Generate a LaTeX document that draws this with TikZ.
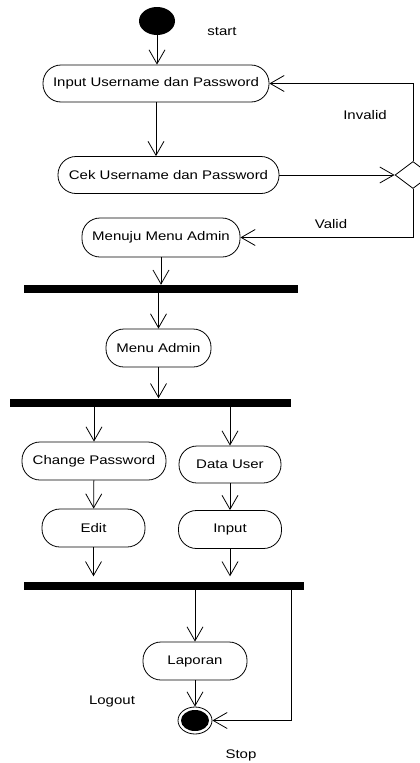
\documentclass[tikz,border=0pt]{standalone}
\usepackage{fontspec}
\setmainfont{Liberation Sans}[FakeStretch=1.2]
\usetikzlibrary{shapes.geometric, arrows.meta, positioning}
\tikzstyle{activity} = [rectangle, rounded corners=18pt, minimum height=37pt, text centered, draw=black, line width=0.8pt, font=\fontsize{12.5}{15}\selectfont]
\tikzstyle{startnode} = [ellipse, fill=black, minimum width=36pt, minimum height=28pt, inner sep=0pt]
\tikzstyle{stopnode}  = [ellipse, draw=black, line width=0.8pt, minimum width=34pt, minimum height=27pt, inner sep=0pt, path picture={\fill[black] (path picture bounding box.center) ellipse (14pt and 10.5pt);}]
\tikzstyle{bar}       = [rectangle, fill=black, minimum height=8pt, inner sep=0pt]
\tikzstyle{decision}  = [diamond, draw=black, fill=white, line width=0.8pt, minimum width=36pt, minimum height=27pt, inner sep=0pt]
\tikzstyle{txt}       = [font=\fontsize{12.5}{15}\selectfont, inner sep=0pt]
\tikzstyle{arrow}     = [line width=0.8pt, -{Straight Barb[length=14pt,width=16pt]}]

\begin{document}
\begin{tikzpicture}[x=1pt, y=-1pt]

\clip (0,0) rectangle (420,763);

\node (start)     [startnode] at (157,21) {};
\node (starttxt)  [txt] at (222,32) {start};
\node (input)     [activity, minimum width=226pt] at (156,83.5) {Input Username dan Password};
\node (cek)       [activity, minimum width=221pt] at (168.5,175) {Cek Username dan Password};
\node (dec)       [decision] at (413,175) {};
\node (invalid)   [txt] at (365,115) {Invalid};
\node (valid)     [txt] at (331,224) {Valid};
\node (menuju)    [activity, minimum width=158pt, minimum height=39pt] at (161,237.5) {Menuju Menu Admin};
\node (bar1)      [bar, minimum width=274pt] at (161,289) {};
\node (menuadmin) [activity, minimum width=105pt, minimum height=38pt] at (158.5,348) {Menu Admin};
\node (bar2)      [bar, minimum width=281pt] at (150.5,402.5) {};
\node (change)    [activity, minimum width=144pt, minimum height=38pt] at (94,461) {Change Password};
\node (datauser)  [activity, minimum width=102pt] at (230,464.5) {Data User};
\node (edit)      [activity, minimum width=103pt, minimum height=38pt] at (93.5,528) {Edit};
\node (inputdata) [activity, minimum width=103pt, minimum height=38pt] at (230,529.5) {Input};
\node (bar3)      [bar, minimum width=280pt] at (164,585.5) {};
\node (laporan)   [activity, minimum width=104pt, minimum height=38pt] at (195,661) {Laporan};
\node (logout)    [txt] at (112,701) {Logout};
\node (stop)      [stopnode] at (195,720.5) {};
\node (stoptxt)   [txt] at (241,755) {Stop};

\draw [arrow] (start)    -- (start |- input.north);
\draw [arrow] (input)    -- (input |- cek.north);
\draw [arrow] (cek)      -- (dec.west);
\draw [arrow] (dec.north) |- (input.east);
\draw [arrow] (dec.south) |- (menuju.east);
\draw [arrow] (menuju)   -- (menuju |- bar1.north);
\draw [arrow] (menuadmin |- bar1.south) -- (menuadmin);
\draw [arrow] (menuadmin) -- (menuadmin |- bar2.north);
\draw [arrow] (change |- bar2.south)   -- (change);
\draw [arrow] (datauser |- bar2.south) -- (datauser);
\draw [arrow] (change)   -- (edit);
\draw [arrow] (datauser) -- (inputdata);
\draw [arrow, shorten >=5pt] (edit)      -- (edit |- bar3.north);
\draw [arrow, shorten >=5pt] (inputdata) -- (inputdata |- bar3.north);
\draw [arrow] (laporan |- bar3.south) -- (laporan);
\draw [arrow] (laporan)  -- (stop);
\draw [arrow] ([xshift=-13pt]bar3.south east) |- (stop.east);

\end{tikzpicture}
\end{document}
